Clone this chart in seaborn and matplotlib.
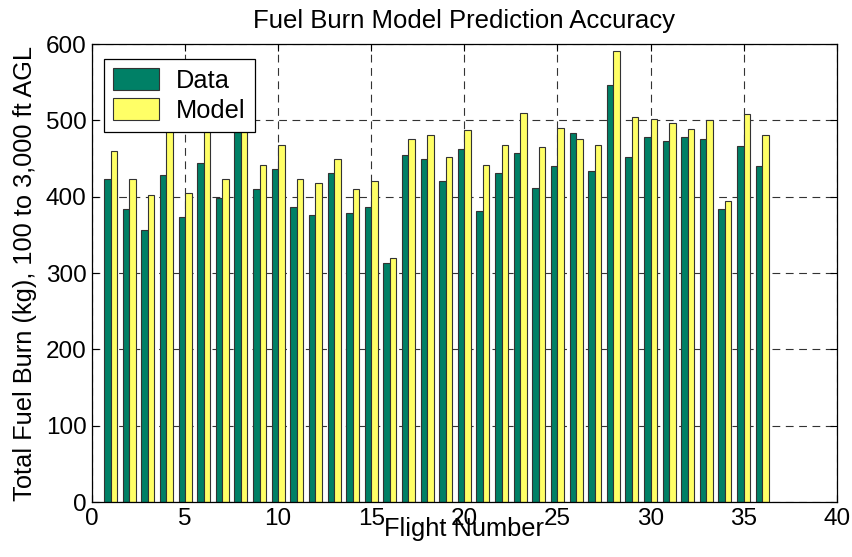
import numpy as np
import pandas as pd
import matplotlib
matplotlib.use("Agg")
import matplotlib.pyplot as plt
import seaborn as sns

flights = list(range(1, 37))
data_burn = [423, 384, 357, 428, 373, 444, 398, 495, 410, 436,
             387, 376, 431, 379, 387, 313, 455, 450, 421, 462,
             381, 431, 457, 412, 440, 483, 434, 547, 452, 478,
             473, 478, 476, 384, 466, 441]
model_burn = [460, 423, 402, 500, 405, 500, 423, 500, 442, 468,
              423, 418, 450, 410, 421, 320, 476, 481, 452, 487,
              442, 468, 510, 465, 490, 476, 468, 591, 505, 502,
              497, 489, 500, 394, 508, 481]
series = ["Data", "Model"]
colors = ["#008066", "#FFFF66"]

df = pd.DataFrame({
    "flight": flights * 2,
    "burn": data_burn + model_burn,
    "series": ["Data"] * len(flights) + ["Model"] * len(flights),
})

sns.set_style("white")
plt.rcParams["font.family"] = ["Liberation Sans", "DejaVu Sans"]
plt.rcParams.update({"text.color": "black", "axes.labelcolor": "black",
                     "xtick.color": "black", "ytick.color": "black"})

fig = plt.figure(figsize=(8.52, 5.57), dpi=100)
ax = fig.add_axes([0.108, 0.0987, 0.874, 0.822])

sns.barplot(data=df, x="flight", y="burn", hue="series", hue_order=series,
            palette=colors, saturation=1, native_scale=True, width=0.7,
            edgecolor="#333333", linewidth=0.8, ax=ax, errorbar=None)

ax.set_xlim(0, 40)
ax.set_ylim(0, 600)
ax.set_xticks(range(0, 41, 5))
ax.set_yticks(range(0, 601, 100))
ax.grid(True, color="#333333", linestyle=(0, (7, 5)), linewidth=0.8)
ax.set_axisbelow(True)
for sp in ax.spines.values():
    sp.set_color("black")
    sp.set_linewidth(0.9)
ax.tick_params(axis="both", labelsize=17.5, direction="in", length=5,
               bottom=True, left=True, top=True, right=True, pad=4)

ax.set_title("Fuel Burn Model Prediction Accuracy", fontsize=18.5, pad=12)
ax.set_xlabel("Flight Number", fontsize=18.3, labelpad=-9)
ax.set_ylabel("Total Fuel Burn (kg), 100 to 3,000 ft AGL", fontsize=18.3, labelpad=6)

leg = ax.legend(title=None, loc="upper left", fontsize=18.3, frameon=True,
                fancybox=False, edgecolor="black", framealpha=1,
                handlelength=1.8, handleheight=0.95, borderpad=0.35,
                labelspacing=0.22, handletextpad=0.7, borderaxespad=0,
                bbox_to_anchor=(0.016, 0.967))
leg.get_frame().set_linewidth(0.9)

fig.savefig("out.png", dpi=100)
